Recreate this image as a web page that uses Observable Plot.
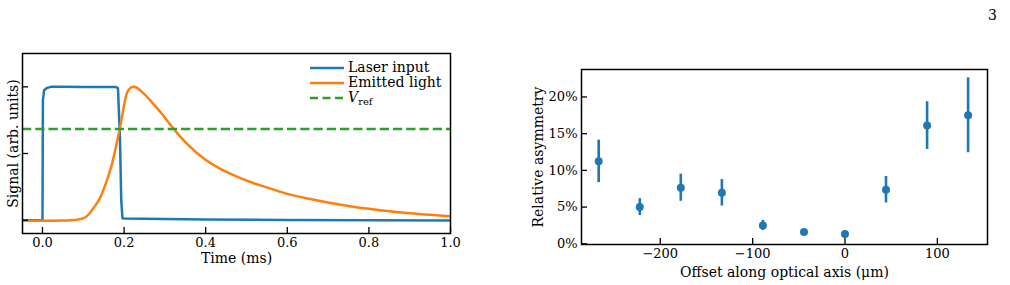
<!DOCTYPE html>
<html>
<head>
<meta charset="utf-8">
<script src="https://cdn.jsdelivr.net/npm/d3@7"></script>
<script src="https://cdn.jsdelivr.net/npm/@observablehq/plot@0.6"></script>
<style>
  html, body { margin: 0; padding: 0; background: #fff; }
  #page { position: relative; width: 1010px; height: 285px; overflow: hidden;
          font-family: "DejaVu Serif", serif; color: #000; background: #fff; }
  #left { position: absolute; left: 0; top: 0; }
  #right { position: absolute; left: 520px; top: 0; }
  #pagenum { position: absolute; left: 988px; top: 7px; font-size: 14px; }
  .legend { position: absolute; left: 310px; top: 60px; font-size: 14px; line-height: 15px; }
  .legend .row { display: flex; align-items: center; height: 15px; }
  .legend svg { margin-right: 4px; flex: none; }
  .legend sub { font-size: 10px; vertical-align: -3px; line-height: 0; }
</style>
</head>
<body>
<div id="page">
  <div id="pagenum">3</div>
  <div id="left"></div>
  <div id="right"></div>
  <div class="legend" id="legend"></div>
</div>
<script>
// ---- Pulse response (left panel) ----
const laserTime   = [-0.05, -0.01, 0.0, 0.001, 0.004, 0.01, 0.02, 0.05, 0.10, 0.15, 0.18, 0.185, 0.19, 0.193, 0.196, 0.20, 0.25, 0.30, 0.40, 0.60, 0.80, 1.00];
const laserSignal = [0.0, 0.0, 0.0, 0.90, 0.975, 0.99, 1.0, 1.0, 0.998, 0.998, 0.998, 0.99, 0.60, 0.15, 0.015, 0.012, 0.010, 0.008, 0.005, 0.002, 0.0, -0.002];

const emitTime   = [-0.05, 0.0, 0.05, 0.07, 0.085, 0.095, 0.105, 0.115, 0.126, 0.135, 0.143, 0.151, 0.159, 0.165, 0.171, 0.177, 0.182, 0.190, 0.198, 0.206, 0.212, 0.218, 0.224, 0.230, 0.241, 0.253, 0.265, 0.290, 0.322, 0.355, 0.396, 0.437, 0.478, 0.518, 0.559, 0.60, 0.65, 0.70, 0.75, 0.80, 0.85, 0.90, 0.95, 1.00];
const emitSignal = [-0.005, -0.005, -0.003, 0.0, 0.004, 0.010, 0.022, 0.050, 0.095, 0.135, 0.180, 0.240, 0.310, 0.365, 0.430, 0.510, 0.580, 0.695, 0.830, 0.945, 0.980, 0.997, 1.0, 0.995, 0.970, 0.935, 0.895, 0.807, 0.683, 0.570, 0.460, 0.383, 0.325, 0.277, 0.237, 0.197, 0.162, 0.132, 0.107, 0.085, 0.067, 0.052, 0.040, 0.030];

const vRef = 0.683;
const timeTicks = [0.0, 0.2, 0.4, 0.6, 0.8, 1.0];
const signalTicks = [0.0, 0.5, 1.0];

// ---- Asymmetry scan (right panel) ----
const offsetUm   = [-266.7, -222.2, -177.8, -133.3, -88.9, -44.4, 0.0, 44.4, 88.9, 133.3];
const asymmetry  = [0.1123, 0.0500, 0.0764, 0.0695, 0.0250, 0.0160, 0.0132, 0.0736, 0.1610, 0.1750];
const asymError  = [0.0290, 0.0115, 0.0185, 0.0180, 0.0068, 0.0030, 0.0020, 0.0180, 0.0325, 0.0510];
const offsetTicks = [-200, -100, 0, 100];
const asymTicks   = [0, 0.05, 0.10, 0.15, 0.20];

const BLUE = "#1f77b4", ORANGE = "#ff7f0e", GREEN = "#2ca02c";
const FONT = '"DejaVu Serif", serif';

const laser = laserTime.map((t, i) => ({t, v: laserSignal[i]}));
const emitted = emitTime.map((t, i) => ({t, v: emitSignal[i]}));
const scan = offsetUm.map((x, i) => ({x, a: asymmetry[i], e: asymError[i]}));

const left = Plot.plot({
  width: 470, height: 285,
  marginLeft: 22, marginRight: 20, marginTop: 53, marginBottom: 52,
  style: {fontFamily: FONT, fontSize: "13px", color: "#000", background: "transparent", overflow: "visible"},
  x: {domain: [-0.049, 1.0]},
  y: {domain: [-0.1, 1.25]},
  marks: [
    Plot.line(laser, {x: "t", y: "v", stroke: BLUE, strokeWidth: 2.5, clip: true}),
    Plot.line(emitted, {x: "t", y: "v", stroke: ORANGE, strokeWidth: 2.5, curve: "monotone-x", clip: true}),
    Plot.ruleY([vRef], {stroke: GREEN, strokeWidth: 2.5, strokeDasharray: "9.25,4"}),
    Plot.frame({stroke: "#000", strokeWidth: 1.5}),
    Plot.axisX({ticks: timeTicks, tickSize: -6, tickPadding: 10, strokeWidth: 1.3,
                tickFormat: d3.format(".1f"), label: null}),
    Plot.axisX({ticks: [], label: "Time (ms)", labelAnchor: "center", labelArrow: "none",
                labelOffset: 29, fontSize: 14}),
    Plot.axisY({ticks: signalTicks, tickSize: -6, strokeWidth: 1.3, tickFormat: () => "", label: null}),
    Plot.axisY({ticks: [], label: "Signal (arb. units)", labelAnchor: "center", labelArrow: "none",
                labelOffset: 14, fontSize: 14})
  ]
});
document.getElementById("left").append(left);

const right = Plot.plot({
  width: 490, height: 285,
  marginLeft: 61, marginRight: 23, marginTop: 69, marginBottom: 41,
  style: {fontFamily: FONT, fontSize: "13px", color: "#000", background: "transparent", overflow: "visible"},
  x: {domain: [-285.3, 154.3]},
  y: {domain: [-0.00095, 0.2374]},
  marks: [
    Plot.ruleX(scan, {x: "x", y1: d => d.a - d.e, y2: d => d.a + d.e, stroke: BLUE, strokeWidth: 2.6}),
    Plot.dot(scan, {x: "x", y: "a", r: 4, fill: BLUE, stroke: "none"}),
    Plot.frame({stroke: "#000", strokeWidth: 1.5}),
    Plot.axisX({ticks: offsetTicks, tickSize: -6, tickPadding: 10, strokeWidth: 1.3,
                tickFormat: d => d < 0 ? "\u2212" + (-d) : String(d), label: null}),
    Plot.axisX({ticks: [], label: "Offset along optical axis (\u03bcm)", labelAnchor: "center",
                labelArrow: "none", labelOffset: 32.5, fontSize: 14}),
    Plot.axisY({ticks: asymTicks, tickSize: -6, tickPadding: 10, strokeWidth: 1.3,
                tickFormat: d3.format(".0%"), label: null}),
    Plot.axisY({ticks: [], label: "Relative asymmetry", labelAnchor: "center", labelArrow: "none",
                labelOffset: 48, fontSize: 14})
  ]
});
document.getElementById("right").append(right);

// Legend for the pulse panel
const legendItems = [
  {label: "Laser input", color: BLUE, dash: null},
  {label: "Emitted light", color: ORANGE, dash: null},
  {label: "<i>V</i><sub>ref</sub>", color: GREEN, dash: "8,4.5"}
];
const legend = document.getElementById("legend");
for (const item of legendItems) {
  const row = document.createElement("div");
  row.className = "row";
  row.innerHTML =
    `<svg width="34" height="6"><line x1="0" x2="34" y1="3" y2="3" stroke="${item.color}" stroke-width="2.5"` +
    (item.dash ? ` stroke-dasharray="${item.dash}"` : "") + `/></svg><span>${item.label}</span>`;
  legend.append(row);
}
</script>
</body>
</html>
